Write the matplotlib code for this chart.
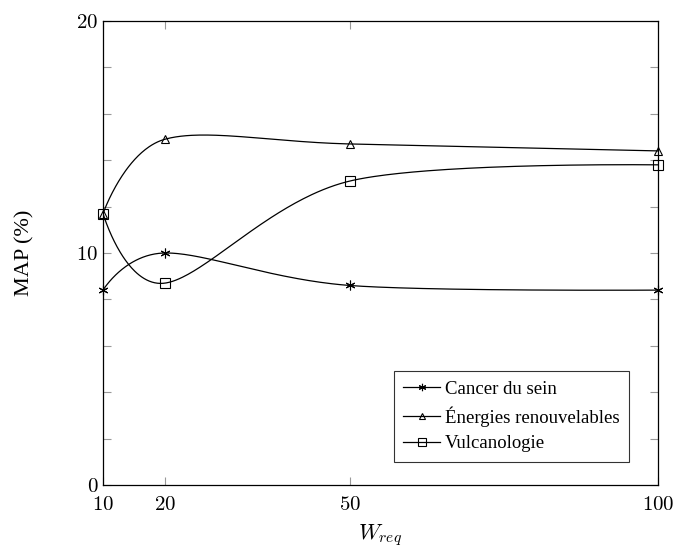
import numpy as np
import matplotlib
matplotlib.use("Agg")
import matplotlib.pyplot as plt
from matplotlib.ticker import FixedLocator, MultipleLocator

plt.rcParams['mathtext.fontset'] = 'cm'
plt.rcParams['font.family'] = ['Liberation Serif', 'DejaVu Serif']

w_req = [10, 20, 50, 100]
cancer = [8.4, 10.0, 8.6, 8.4]
energies = [11.7, 14.9, 14.7, 14.4]
vulcano = [11.7, 8.7, 13.1, 13.8]
labels = ['Cancer du sein', 'Énergies renouvelables', 'Vulcanologie']

fig = plt.figure(figsize=(6.76, 5.51), dpi=100)
ax = fig.add_axes([0.1524, 0.1198, 0.821, 0.8421])
ax.set_xlim(10, 100)
ax.set_ylim(0, 20)

# px per data unit, so the smoothing is done in screen space like tikz
sx = 0.821 * 676 / 90.0
sy = 0.8421 * 551 / 20.0


def smooth(xs, ys, tension=0.16, n=80):
    p = np.column_stack([np.array(xs) * sx, np.array(ys) * sy])
    out = []
    for i in range(len(p) - 1):
        a, b = p[i], p[i + 1]
        c1 = a + tension * (b - p[i - 1]) if i > 0 else a
        c2 = b - tension * (p[i + 2] - a) if i + 2 < len(p) else b
        t = np.linspace(0, 1, n)[:, None]
        seg = ((1 - t) ** 3) * a + 3 * ((1 - t) ** 2) * t * c1 + 3 * (1 - t) * t ** 2 * c2 + t ** 3 * b
        out.append(seg)
    pts = np.vstack(out)
    return pts[:, 0] / sx, pts[:, 1] / sy


markers = [(6, 2, 0), '^', 's']
sizes = [7, 6, 7.5]
for ys, m, ms, lab in zip([cancer, energies, vulcano], markers, sizes, labels):
    cx, cy = smooth(w_req, ys)
    ax.plot(cx, cy, color='black', lw=0.9)
    ax.plot(w_req, ys, linestyle='none', marker=m, ms=ms, mfc='none',
            mec='black', mew=0.8, clip_on=False)
    ax.plot([], [], color='black', lw=0.9, marker=m, ms=ms * 0.75,
            mfc='none', mec='black', mew=0.8, label=lab)

ax.xaxis.set_major_locator(FixedLocator(w_req))
ax.set_xticklabels([f'${v}$' for v in w_req])
ax.yaxis.set_major_locator(FixedLocator([0, 10, 20]))
ax.yaxis.set_minor_locator(MultipleLocator(2))
ax.set_yticklabels(['$0$', '$10$', '$20$'])
ax.tick_params(which='both', direction='in', top=True, right=True,
               color='#999999', width=0.8, labelsize=15)
ax.tick_params(which='major', length=6)
ax.tick_params(which='minor', length=6)
ax.tick_params(axis='x', pad=8)
for s in ax.spines.values():
    s.set_linewidth(0.9)

ax.set_xlabel(r'$W_{req}$', fontsize=16, labelpad=5)
ax.set_ylabel('MAP (%)', fontsize=16, labelpad=30)

leg = ax.legend(loc='lower right', bbox_to_anchor=(0.948, 0.05),
                fontsize=13.5, frameon=True, fancybox=False,
                handlelength=2.0, handletextpad=0.25, borderpad=0.5,
                labelspacing=0.45, borderaxespad=0)
leg.get_frame().set_edgecolor('black')
leg.get_frame().set_linewidth(0.8)

fig.savefig('out.png', dpi=100)
